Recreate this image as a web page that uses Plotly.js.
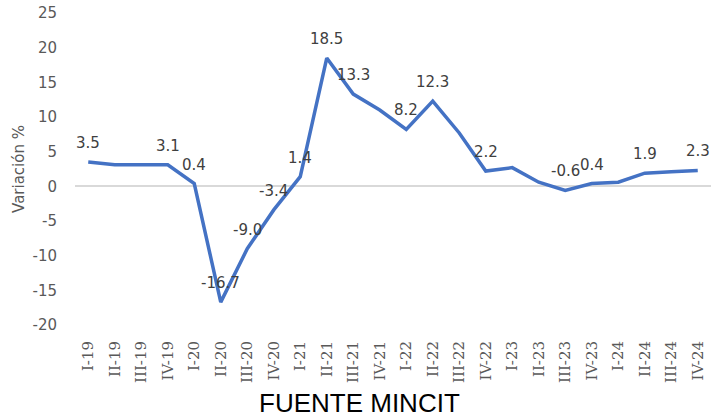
<!DOCTYPE html>
<html><head><meta charset="utf-8">
<script src="https://cdn.plot.ly/plotly-3.0.1.min.js"></script>
<style>body{margin:0;background:#fff}#c{width:712px;height:418px}</style>
</head><body><div id="c"></div>
<script>
const quarters = ["I-19","II-19","III-19","IV-19","I-20","II-20","III-20","IV-20","I-21","II-21","III-21","IV-21","I-22","II-22","III-22","IV-22","I-23","II-23","III-23","IV-23","I-24","II-24","III-24","IV-24"];
const variation = [3.5,3.1,3.1,3.1,0.4,-16.7,-9.0,-3.4,1.4,18.5,13.3,11.0,8.2,12.3,7.7,2.2,2.7,0.6,-0.6,0.4,0.6,1.9,2.1,2.3];
const labels = ["3.5","","","3.1","0.4","-16.7","-9.0","-3.4","1.4","18.5","13.3","","8.2","12.3","","2.2","","","-0.6","0.4","","1.9","","2.3"];
const yTicks = [-20,-15,-10,-5,0,5,10,15,20,25];
const yTickText = ["-20","-15","-10","-5","0","5","10","15","20","25"];

const labelAnnotations = quarters.map((q, i) => ({
  x: q, y: variation[i], xref: 'x', yref: 'y', text: labels[i], showarrow: false,
  yshift: 19, xanchor: 'center', yanchor: 'middle',
  font: {family: 'DejaVu Sans', size: 15, color: '#404040'}
})).filter(a => a.text !== '');

Plotly.newPlot('c', [{
  x: quarters, y: variation, type: 'scatter', mode: 'lines',
  line: {color: '#4472C4', width: 3.5},
  cliponaxis: false, hoverinfo: 'none'
}], {
  width: 712, height: 418,
  margin: {l: 75, r: 1, t: 13, b: 93},
  paper_bgcolor: '#fff', plot_bgcolor: '#fff',
  showlegend: false,
  xaxis: {
    type: 'category', range: [-0.5, 23.5], showgrid: false, zeroline: false, showline: false,
    tickangle: -90, ticks: 'outside', ticklen: 9, tickcolor: 'rgba(0,0,0,0)',
    tickfont: {family: 'DejaVu Serif', size: 15, color: '#595959'}
  },
  yaxis: {
    range: [-20, 25], tickvals: yTicks, ticktext: yTickText, showgrid: false,
    zeroline: true, zerolinecolor: '#d9d9d9', zerolinewidth: 2, showline: false,
    ticks: 'outside', ticklen: 14, tickcolor: 'rgba(0,0,0,0)',
    tickfont: {family: 'DejaVu Sans', size: 15, color: '#595959'},
    title: {text: 'Variación %', font: {family: 'DejaVu Sans', size: 15, color: '#595959'}, standoff: 4}
  },
  annotations: labelAnnotations.concat([{
    text: 'FUENTE MINCIT', xref: 'paper', yref: 'paper', x: 0.448, y: 0, yshift: -78,
    xanchor: 'center', yanchor: 'middle', showarrow: false,
    font: {family: 'Liberation Sans', size: 26, color: '#000'}
  }])
}, {staticPlot: true});
</script></body></html>
